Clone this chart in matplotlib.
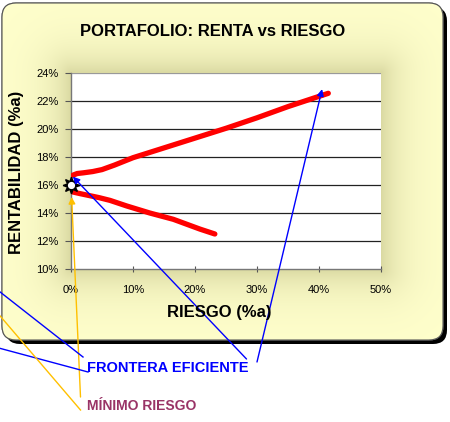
import matplotlib
matplotlib.use("Agg")
import matplotlib.pyplot as plt
import numpy as np
from matplotlib.patches import FancyBboxPatch
from matplotlib.lines import Line2D
from matplotlib.ticker import FuncFormatter

plt.rcParams["font.family"] = ["Liberation Sans", "DejaVu Sans"]

# ── Data (risk %a, return %a) ────────────────────────────────────────────
upper_risk = [0.3, 1, 2, 3.5, 5, 7, 10, 15, 20, 25, 30, 35, 41.5]
upper_ret = [16.7, 16.82, 16.87, 16.96, 17.1, 17.42, 17.95, 18.65, 19.35, 20.05, 20.8, 21.6, 22.55]
lower_risk = [0.3, 1.5, 3, 4.5, 6.3, 9, 12.7, 16.5, 20.8, 23.2]
lower_ret = [15.5, 15.38, 15.24, 15.1, 14.9, 14.5, 14.0, 13.55, 12.85, 12.5]
min_risk = [0]
min_ret = [16]

x_ticks = [0, 10, 20, 30, 40, 50]
y_ticks = [10, 12, 14, 16, 18, 20, 22, 24]

title = "PORTAFOLIO: RENTA vs RIESGO"
x_label = "RIESGO (%a)"
y_label = "RENTABILIDAD (%a)"
frontier_label = "FRONTERA EFICIENTE"
minrisk_label = "MÍNIMO RIESGO"

W, H = 450, 422
PL, PR, PT, PB = 71, 381, 73, 269   # plot area in pixels


def fx(x):
    return x / W


def fy(y):
    return 1 - y / H


fig = plt.figure(figsize=(4.5, 4.22), dpi=100)
fig.patch.set_facecolor("white")

# ── Background panel: rounded box with shadow and glow ──────────────────
bg = fig.add_axes([0, 0, 1, 1], zorder=0)
bg.set_xlim(0, W)
bg.set_ylim(H, 0)
bg.axis("off")

shadow = FancyBboxPatch((6, 7), 441, 337, boxstyle="round,pad=0,rounding_size=14",
                        facecolor="black", edgecolor="none")
bg.add_patch(shadow)
box = FancyBboxPatch((2, 3), 441, 337, boxstyle="round,pad=0,rounding_size=14",
                     facecolor="#FFFFCC", edgecolor="#666666", lw=0.8)
bg.add_patch(box)

xs = np.arange(W) + 0.5
ys = np.arange(H) + 0.5
X, Y = np.meshgrid(xs, ys)
dx = np.maximum(np.maximum(PL - X, X - PR), 0)
dy = np.maximum(np.maximum(PT - Y, Y - PB), 0)
w = np.exp(-np.hypot(dx, dy) / 22.0)[..., None]
base = np.array([255, 255, 204]) / 255
shade = np.array([218, 217, 162]) / 255
img = base + (shade - base) * w
im = bg.imshow(img, extent=(0, W, H, 0), zorder=1, interpolation="bilinear")
im.set_clip_path(box)
edge = FancyBboxPatch((2, 3), 441, 337, boxstyle="round,pad=0,rounding_size=14",
                      facecolor="none", edgecolor="#555555", lw=0.8, zorder=2)
bg.add_patch(edge)

# ── Main plot ───────────────────────────────────────────────────────────
ax = fig.add_axes([fx(PL), fy(PB), (PR - PL) / W, (PB - PT) / H], zorder=2)
ax.set_facecolor("white")
ax.set_xlim(0, 50)
ax.set_ylim(10, 24)
ax.set_xticks(x_ticks)
ax.set_yticks(y_ticks)
pct = FuncFormatter(lambda v, p: f"{v:.0f}%")
ax.xaxis.set_major_formatter(pct)
ax.yaxis.set_major_formatter(pct)
ax.tick_params(axis="x", direction="inout", length=5, pad=9, labelsize=8, color="#555555")
ax.tick_params(axis="y", direction="out", length=4, pad=5, labelsize=8, color="#555555")
for s in ["top", "right"]:
    ax.spines[s].set_visible(False)
for s in ["left", "bottom"]:
    ax.spines[s].set_color("#777777")
    ax.spines[s].set_linewidth(1)
for v in y_ticks[1:-1]:
    ax.axhline(v, color="#222222", lw=0.9, zorder=1)
ax.axhline(y_ticks[-1], color="#999999", lw=0.9, zorder=1)

ax.plot(upper_risk, upper_ret, color="#FF0000", lw=3.8, solid_capstyle="round",
        solid_joinstyle="round", zorder=3)
ax.plot(lower_risk, lower_ret, color="#FF0000", lw=3.8, solid_capstyle="round",
        solid_joinstyle="round", zorder=3)
ax.plot(min_risk, min_ret, marker=(8, 1, 0), markersize=12, color="black",
        clip_on=False, zorder=5)
ax.plot(min_risk, min_ret, marker="o", markersize=6, markerfacecolor="white",
        markeredgecolor="black", markeredgewidth=0.8, clip_on=False, zorder=6)

# ── Callout arrows and leader lines ─────────────────────────────────────
blue = "#0000FF"
gold = "#FFC000"
arrow_kw = dict(arrowstyle="-|>", lw=1.0, mutation_scale=10, shrinkA=0, shrinkB=0)
ax.annotate("", xy=(upper_risk[-1] - 1, upper_ret[-1] + 0.3), xycoords="data",
            xytext=(fx(257), fy(362)), textcoords="figure fraction",
            arrowprops=dict(color=blue, **arrow_kw), annotation_clip=False, zorder=7)
ax.annotate("", xy=(upper_risk[0], upper_ret[0] - 0.1), xycoords="data",
            xytext=(fx(246.5), fy(359)), textcoords="figure fraction",
            arrowprops=dict(color=blue, **arrow_kw), annotation_clip=False, zorder=7)
ax.annotate("", xy=(min_risk[0] + 0.1, lower_ret[0] - 0.35), xycoords="data",
            xytext=(fx(80.5), fy(397)), textcoords="figure fraction",
            arrowprops=dict(color=gold, **arrow_kw), annotation_clip=False, zorder=7)

for (x0, y0), (x1, y1), c in [((83, 357), (-5, 288), blue),
                              ((88, 372), (-5, 347), blue),
                              ((80.5, 410), (-5, 310), gold)]:
    fig.add_artist(Line2D([fx(x0), fx(x1)], [fy(y0), fy(y1)], color=c, lw=1.0, zorder=7))

# ── Texts ───────────────────────────────────────────────────────────────
fig.text(fx(213), fy(31), title, ha="center", va="center", fontsize=12, weight="bold", zorder=8)
fig.text(fx(219), fy(312), x_label, ha="center", va="center", fontsize=12, weight="bold", zorder=8)
fig.text(fx(17), fy(172), y_label, ha="center", va="center", fontsize=12, weight="bold",
         rotation=90, zorder=8)
fig.text(fx(87), fy(368), frontier_label, ha="left", va="center", fontsize=10.5,
         weight="bold", color=blue, zorder=8)
fig.text(fx(87), fy(406), minrisk_label, ha="left", va="center", fontsize=10,
         weight="bold", color="#993366", zorder=8)

fig.savefig("out.png", dpi=100)
plt.close(fig)
